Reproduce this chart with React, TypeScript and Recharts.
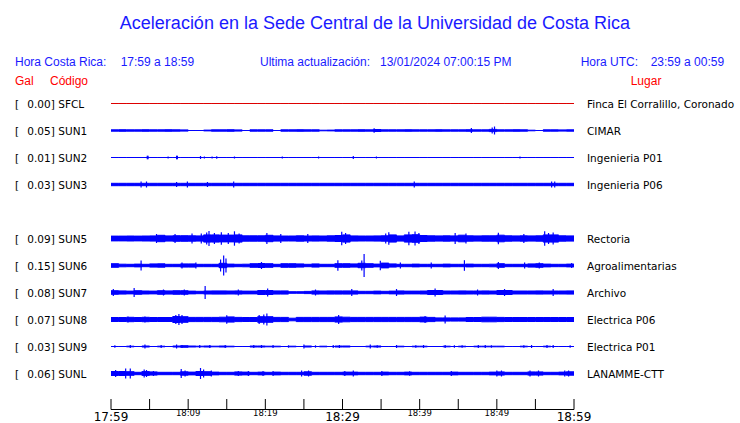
import React from 'react';
import { ComposedChart, Area, Scatter, ErrorBar, XAxis, YAxis } from 'recharts';

// stations, top to bottom (slot 5 is empty, there is no SUN4 trace)
const CODES = ['SFCL', 'SUN1', 'SUN2', 'SUN3', 'SUN5', 'SUN6', 'SUN7', 'SUN8', 'SUN9', 'SUNL'];
const GAL = ['0.00', '0.05', '0.01', '0.03', '0.09', '0.15', '0.08', '0.07', '0.03', '0.06'];
const PLACES = [
  'Finca El Corralillo, Coronado',
  'CIMAR',
  'Ingenieria P01',
  'Ingenieria P06',
  'Rectoria',
  'Agroalimentarias',
  'Archivo',
  'Electrica P06',
  'Electrica P01',
  'LANAMME-CTT'
];

// time axis: minutes after 17:59
const MINUTE_TICKS = [0, 5, 10, 15, 20, 25, 30, 35, 40, 45, 50, 55, 60];
const TICK_LABELS = ['17:59', '', '18:09', '', '18:19', '', '18:29', '', '18:39', '', '18:49', '', '18:59'];
const BIG_LABELS = ['17:59', '18:29', '18:59'];

// background trace amplitude, one value per minute (0..60)
const SUN1_NOISE = [
  0.7, 0.8, 0.7, 0.7, 0.8, 0.7, 0.7, 0.8, 0.7, 0.6,
  0, 0, 0.4, 0.7, 0.7, 0.8, 0.6, 0, 0.7, 0.7,
  0.7, 0, 0.7, 0.7, 0.8, 0.7, 0.7, 0.3, 0.4, 0.7,
  0.7, 0.7, 0.8, 0.7, 1, 0.7, 0.7, 0.7, 0.8, 0.7,
  0.7, 0.7, 0.8, 0.7, 0.7, 0.7, 0.8, 0.7, 0.7, 1.1,
  0.7, 0.7, 0.8, 0.7, 0.3, 0, 0.7, 0.7, 0.6, 0.7, 0.7
];
const SUN3_NOISE = [
  1.2, 1.2, 1.2, 1.2, 1.2, 1.2, 1.2, 1.2, 1.2, 1.2,
  1.2, 1.2, 1.2, 1.2, 1.2, 1.2, 1.2, 1.2, 1.2, 1.2,
  1.2, 1.2, 1.2, 1.2, 1.2, 1.2, 1.2, 1.2, 1.2, 1.2,
  1.2, 1.2, 1.2, 1.2, 1.2, 1.2, 1.2, 1.2, 1.2, 1.2,
  1.2, 1.2, 1.2, 1.2, 1.2, 1.2, 1.2, 1.2, 1.2, 1.2,
  1.2, 1.2, 1.2, 1.2, 1.2, 1.2, 1.2, 1.2, 1.2, 1.2, 1.2
];
const SUN5_NOISE = [
  2.4, 2.4, 2.5, 2.4, 2.5, 2.6, 3.2, 2.6, 2.8, 2.8,
  2.7, 2.6, 3.6, 3.6, 3.4, 3.4, 3.6, 2.7, 2.7, 2.7,
  3.2, 2.6, 2.5, 2.5, 2.7, 2.5, 2.6, 2.5, 2.7, 3,
  3.6, 2.6, 2.5, 2.5, 2.6, 2.7, 3.6, 2.6, 3.6, 3.8,
  3, 2.7, 2.6, 2.7, 2.6, 3.3, 2.7, 2.6, 2.7, 2.7,
  3.3, 2.7, 2.6, 2.7, 2.6, 2.7, 3.6, 3.6, 2.7, 2.6, 2.6
];
const SUN6_NOISE = [
  1.8, 1.3, 1.2, 1.4, 1.2, 1.6, 1.7, 1.2, 1.2, 1.6,
  1.6, 1.2, 1.2, 1.2, 2.2, 1.4, 1.2, 1.3, 1.8, 2,
  1.8, 1.2, 1.8, 1.8, 1.6, 1.2, 1.6, 1.2, 1.2, 1.8,
  1.8, 1.6, 2.2, 1.8, 1.4, 2.4, 1.6, 1.2, 1.2, 1.4,
  1.2, 1.2, 1.2, 1.4, 1.2, 1.2, 1.4, 1.2, 1.2, 1.3,
  1.8, 1.2, 1.2, 1.2, 1.6, 1.8, 1.4, 1.2, 1.2, 1.4, 1.4
];
const SUN7_NOISE = [
  1.8, 1.6, 1.4, 1.8, 1.5, 1.4, 1.8, 1.6, 1.8, 1.8,
  1.4, 1.2, 1.5, 1.6, 1.6, 1.5, 1.6, 1.4, 1.4, 2,
  2, 1.6, 1.6, 0.8, 0.8, 1.1, 1.6, 1.5, 1.6, 1.6,
  1.6, 1.6, 1.2, 1.2, 1.4, 1.2, 1.4, 1.6, 1.4, 1.4,
  1.5, 2, 2, 1.5, 1.5, 1.6, 1.5, 1.5, 1.6, 1.5,
  2, 2, 1.5, 1.5, 1.5, 1.6, 1.5, 1.5, 1.5, 1.6, 1.6
];
const SUN8_NOISE = [
  2, 2, 2.2, 2, 2.2, 2, 2, 2, 3, 2.8,
  2.1, 2.1, 2.1, 2.1, 2.3, 2.6, 2.1, 2, 2, 2.8,
  2.8, 2.1, 2.1, 1.3, 2.1, 2.1, 2.1, 2.1, 2.1, 2.6,
  2.3, 2.1, 2.1, 2.1, 2.1, 2.1, 2.1, 2.1, 2.1, 2.1,
  2.4, 2.1, 1.6, 1.6, 1.6, 1.6, 2, 2, 2.3, 2.3,
  2.1, 2, 2, 2, 2, 2, 2, 2, 2, 2, 2
];
const SUN9_NOISE = [
  0, 0, 0.3, 0, 0.5, 0, 0.3, 0, 0.5, 0.8,
  0.5, 0.3, 0.5, 0.3, 0.5, 0.3, 0, 0, 0.5, 0.5,
  0.3, 0.3, 0, 0.3, 0, 0.5, 0, 0.3, 0, 0.5,
  0.5, 0, 0, 0.3, 0.5, 0, 0, 0.3, 0, 0.3,
  0.3, 0, 0, 0.3, 0, 0.3, 0, 0.3, 0.3, 0.3,
  0.3, 0, 0, 0.3, 0, 0, 0.3, 0, 0, 0, 0
];
const SUNL_NOISE = [
  2, 2, 1.8, 1.2, 1.9, 1.6, 1.2, 1.2, 1.2, 1.7,
  1.4, 2, 1.8, 1.4, 1.2, 1.2, 1.6, 1.4, 1.2, 1.4,
  1.2, 1.4, 1.2, 1.2, 1.2, 1.7, 1.2, 1.2, 1.2, 1.2,
  1.4, 1.4, 1.2, 1.2, 1.2, 1.4, 1.2, 1.2, 1.4, 1.2,
  1.2, 1.2, 1.2, 1.2, 1.4, 1.2, 1.2, 1.2, 1.2, 1.4,
  1.6, 1.2, 1.2, 1.2, 1.6, 1.6, 1.2, 1.2, 1.4, 1.7, 1.7
];

// short bursts: [minute, half amplitude]
const SUN1_SPIKES = [[34.1, 2.3], [46.7, 2.5], [49.4, 3], [49.7, 4]];
const SUN2_SPIKES = [
  [4.7, 1.8], [4.8, 1.8], [7.4, 1], [8.5, 1.8], [8.6, 1.8], [11.6, 1.5], [12.1, 1],
  [13.1, 1], [13.7, 1.2], [16, 1], [22.2, 1], [26.9, 1], [31.4, 1.5], [34.4, 1], [53, 1]
];
const SUN3_SPIKES = [[3.9, 3], [4.6, 3], [8.5, 2.5], [9.9, 3], [12.5, 2.5], [15.9, 3], [39.3, 3], [57.1, 3], [57.5, 3]];
const SUN5_SPIKES = [
  [5.9, 4.5], [8.3, 4.5], [10.5, 5], [11.7, 5], [12.4, 6], [12.7, 7.5], [13.4, 5.5], [14.3, 6.3],
  [15.2, 5.5], [16, 7.2], [16.6, 5], [20.2, 5.5], [22, 4.5], [25.5, 4.5], [29.9, 6.7], [30.4, 5.5],
  [36, 6.2], [35.6, 5], [38.6, 6.7], [39.4, 7], [39.9, 5.5], [44.6, 5.5], [46, 5], [50.2, 5.7],
  [53.5, 4.5], [56.2, 7.3], [56.7, 5.5], [57.3, 6]
];
const SUN6_SPIKES = [
  [3.9, 5], [9.2, 3], [11, 3], [14.2, 6], [14.6, 10], [14.9, 7], [19.5, 3.5], [29.4, 5.3],
  [32.5, 5], [32.8, 11.5], [34.9, 4.7], [37.5, 3], [41.5, 3], [45.8, 5.3], [50.2, 3.5],
  [53.6, 3], [55.5, 3], [59.7, 2.5]
];
const SUN7_SPIKES = [
  [0.3, 3.5], [3, 4.5], [6.8, 3], [9.5, 3], [12.2, 6.5], [16.5, 3], [20.3, 4], [26.5, 3],
  [31.2, 3.5], [37, 3.5], [42, 4], [47.5, 3], [51, 3.5], [57.3, 3.5]
];
const SUN8_SPIKES = [
  [2.2, 3], [4.4, 3], [8.4, 4.5], [8.8, 5.5], [9.2, 4.5], [15, 4.2], [19.2, 4.5], [19.8, 5],
  [20.2, 6], [29.5, 4.5], [40.7, 3.5], [43.3, 4]
];
const SUN9_SPIKES = [
  [0.5, 1.2], [2.5, 1.5], [4.4, 2], [6.5, 1.5], [8.5, 2], [9.2, 1.5], [11.5, 1.5], [12.8, 1.5],
  [14.8, 1.5], [18.5, 1.5], [19.5, 1.5], [21, 1.5], [23, 1.2], [25, 2], [26.5, 1.2], [28.8, 1.5],
  [29.6, 1.5], [33.6, 2], [34.5, 1.2], [37, 1.5], [39.5, 1.2], [40.5, 1.5], [43.3, 1.5], [44.5, 1.2],
  [45.5, 1.2], [47.6, 1.5], [48.5, 1.5], [49.3, 1.2], [53.5, 1.2], [54.5, 1.5], [56.5, 1.5],
  [57.3, 1.5], [59.5, 1.2]
];
const SUNL_SPIKES = [
  [0.6, 3.5], [1.9, 5], [2.5, 5], [4.3, 4], [4.6, 3.5], [5.5, 2.5], [9.1, 4.5], [9.6, 3],
  [11.6, 5.5], [12, 4], [13, 3], [16.5, 2.5], [17.8, 2.5], [19.7, 2.5], [21, 2.5], [24.7, 3],
  [25.6, 3], [30.3, 2.5], [31.4, 3], [35.1, 2.5], [38.7, 2.2], [44.1, 2.5], [50, 3], [50.6, 3],
  [54.3, 3], [55.4, 3], [58.8, 3], [59.3, 3]
];

const NOISE: Record<string, number | number[]> = {
  SFCL: 0, SUN1: SUN1_NOISE, SUN2: 0, SUN3: SUN3_NOISE, SUN5: SUN5_NOISE,
  SUN6: SUN6_NOISE, SUN7: SUN7_NOISE, SUN8: SUN8_NOISE, SUN9: SUN9_NOISE, SUNL: SUNL_NOISE
};
const SPIKES: Record<string, number[][]> = {
  SFCL: [], SUN1: SUN1_SPIKES, SUN2: SUN2_SPIKES, SUN3: SUN3_SPIKES, SUN5: SUN5_SPIKES,
  SUN6: SUN6_SPIKES, SUN7: SUN7_SPIKES, SUN8: SUN8_SPIKES, SUN9: SUN9_SPIKES, SUNL: SUNL_SPIKES
};

const ROWS = [1, 2, 3, 4, 6, 7, 8, 9, 10, 11];
const ROW_PX = 27;
const AMP = 1 / ROW_PX;
const BLUE = '#0000ff';
const TEXT_BLUE = '#1a1aff';
const RED = '#ff0000';
const SANS = '"Liberation Sans", Arial, sans-serif';
const DEJAVU = '"DejaVu Sans", sans-serif';

const MINUTES = Array.from({ length: 61 }, (_, m) => m);
const table = MINUTES.map((m) => {
  const row: any = { m };
  CODES.forEach((c, i) => {
    const n = NOISE[c];
    const a = typeof n === 'number' ? n : n[m];
    row[c] = [ROWS[i] - a * AMP, ROWS[i] + a * AMP];
  });
  return row;
});
const spikePoints = CODES.flatMap((c, i) =>
  SPIKES[c].map(([m, a]) => ({ m, y: ROWS[i], err: a * AMP }))
);

const TimeTick = (props: any) => {
  const { x, y, index } = props;
  const label = TICK_LABELS[index] ?? '';
  const big = BIG_LABELS.includes(label);
  return (
    <g>
      <line x1={x} x2={x} y1={y - 10.5} y2={y} stroke="#000" strokeWidth={1} />
      {label && (
        <text
          x={x}
          y={Math.round(big ? y + 11 : y + 6.5)}
          textAnchor="middle"
          fontFamily={DEJAVU}
          fontWeight="normal"
          fontSize={big ? 12 : 8.5}
          fill="#000"
        >
          {label}
        </text>
      )}
    </g>
  );
};

const LeftTick = (props: any) => {
  const { y, payload } = props;
  const i = ROWS.indexOf(payload.value);
  if (i < 0) return null;
  return (
    <g fontFamily={DEJAVU} fontSize={10.5} fill="#000">
      <text x={15} y={y + 4}>[</text>
      <text x={27.3} y={y + 4}>{GAL[i]}]</text>
      <text x={58.3} y={y + 4}>{CODES[i]}</text>
    </g>
  );
};

const RightTick = (props: any) => {
  const { y, payload } = props;
  const i = ROWS.indexOf(payload.value);
  if (i < 0) return null;
  return (
    <text x={587} y={y + 4} fontFamily={DEJAVU} fontSize={10.5} fill="#000">
      {PLACES[i]}
    </text>
  );
};

const App = () => {
  const domainTop = 333 / ROW_PX;
  return (
    <div style={{ position: 'absolute', left: 0, top: 0, width: 740, height: 423, background: '#fff' }}>
      <ComposedChart width={740} height={423} data={table} margin={{ top: 76.5, right: 0, bottom: 0, left: 0 }}>
        <XAxis
          dataKey="m"
          type="number"
          domain={[0, 60]}
          ticks={MINUTE_TICKS}
          interval={0}
          height={13.5}
          tickSize={0}
          tickMargin={0}
          tickLine={false}
          axisLine={{ stroke: '#000', strokeWidth: 1 }}
          tick={<TimeTick />}
          allowDataOverflow
        />
        <YAxis
          yAxisId="l"
          dataKey="y"
          type="number"
          domain={[0, domainTop]}
          reversed
          width={111}
          ticks={ROWS}
          interval={0}
          axisLine={false}
          tickLine={false}
          tick={<LeftTick />}
          allowDataOverflow
        />
        <YAxis
          yAxisId="r"
          dataKey="y"
          orientation="right"
          type="number"
          domain={[0, domainTop]}
          reversed
          width={166}
          ticks={ROWS}
          interval={0}
          axisLine={false}
          tickLine={false}
          tick={<RightTick />}
          allowDataOverflow
        />
        {CODES.map((c) => (
          <Area
            key={c}
            yAxisId="l"
            dataKey={c}
            type="stepAfter"
            stroke={c === 'SFCL' ? '#dd0000' : BLUE}
            strokeWidth={1}
            fill={BLUE}
            fillOpacity={1}
            dot={false}
            activeDot={false}
            isAnimationActive={false}
          />
        ))}
        <Scatter yAxisId="l" data={spikePoints} dataKey="y" shape={() => <g />} isAnimationActive={false}>
          <ErrorBar dataKey="err" direction="y" width={0} stroke={BLUE} strokeWidth={1.2} isAnimationActive={false} />
        </Scatter>
      </ComposedChart>
      <svg width={740} height={90} style={{ position: 'absolute', left: 0, top: 0, pointerEvents: 'none' }}>
        <text x={375} y={29} textAnchor="middle" fontFamily={SANS} fontSize={18} fill={TEXT_BLUE}>
          Aceleración en la Sede Central de la Universidad de Costa Rica
        </text>
        <g fontFamily={SANS} fontSize={12} fill={TEXT_BLUE}>
          <text x={15} y={65.5}>Hora Costa Rica:</text>
          <text x={120.7} y={65.5}>17:59 a 18:59</text>
          <text x={260} y={65.5}>Ultima actualización:</text>
          <text x={380} y={65.5}>13/01/2024 07:00:15 PM</text>
          <text x={580.7} y={65.5}>Hora UTC:</text>
          <text x={650.7} y={65.5}>23:59 a 00:59</text>
        </g>
        <g fontFamily={SANS} fontSize={12} fill={RED}>
          <text x={15} y={84.5}>Gal</text>
          <text x={50} y={84.5}>Código</text>
          <text x={630.7} y={84.5}>Lugar</text>
        </g>
      </svg>
    </div>
  );
};

export default App;
